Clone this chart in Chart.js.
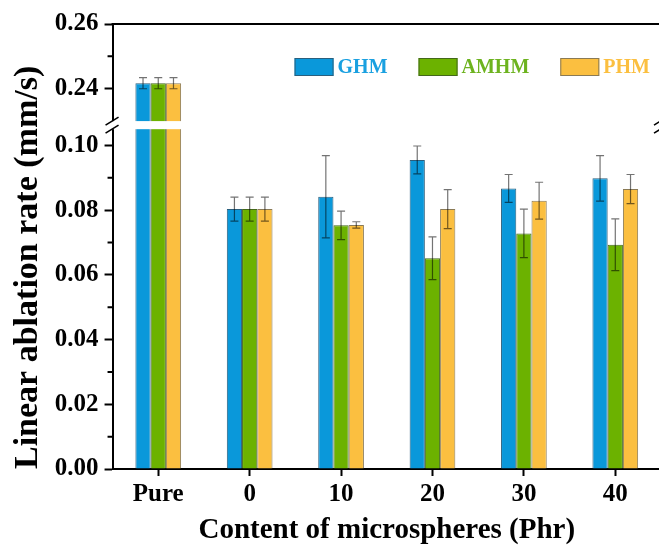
<!DOCTYPE html>
<html>
<head>
<meta charset="utf-8">
<script src="https://cdn.jsdelivr.net/npm/chart.js@4.4.0/dist/chart.umd.min.js"></script>
<style>
  html, body { margin: 0; padding: 0; background: #fff; overflow: hidden; width: 659px; height: 545px; }
  #wrap { position: relative; width: 662px; height: 545px; }
</style>
</head>
<body>
<div id="wrap"><canvas id="c"></canvas></div>
<script>
// Linear ablation rate (mm/s) by microsphere content
const categories = ['Pure', '0', '10', '20', '30', '40'];
const seriesNames = ['GHM', 'AMHM', 'PHM'];
const ghm     = [0.2417, 0.0803, 0.0841, 0.0955, 0.0867, 0.0898];
const ghmErr  = [0.0017, 0.0037, 0.0127, 0.0043, 0.0043, 0.0070];
const amhm    = [0.2417, 0.0803, 0.0753, 0.0651, 0.0728, 0.0693];
const amhmErr = [0.0017, 0.0037, 0.0044, 0.0066, 0.0075, 0.0080];
const phm     = [0.2417, 0.0803, 0.0754, 0.0803, 0.0829, 0.0865];
const phmErr  = [0.0017, 0.0037, 0.0010, 0.0060, 0.0057, 0.0045];
const majorTicks = [0, 0.02, 0.04, 0.06, 0.08, 0.10, 0.24, 0.26];
const minorTicks = [0.01, 0.03, 0.05, 0.07, 0.09, 0.25];

// Broken y axis: 0–0.105 below the break, 0.23–0.26 above it
const SHIFT = 0.1225;
const BREAK_LO = 0.105, BREAK_HI = 0.1075;   // band of the break, in drawn units
const toDrawn = v => (v > 0.2 ? v - SHIFT : v);
const toReal = d => (d > BREAK_HI - 0.001 ? d + SHIFT : d);
const majorSet = new Set(majorTicks.map(v => toDrawn(v).toFixed(4)));
const isMajor = d => majorSet.has(Number(d).toFixed(4));

const FONT = '"Liberation Serif", "Times New Roman", serif';
const palette = [
  { fill: '#0a98da', edge: '#2b5f7d', text: '#1aa0e0' },
  { fill: '#6cb200', edge: '#43681a', text: '#6db31f' },
  { fill: '#fbbf40', edge: '#8a7a55', text: '#fbbf40' }
];

const errorSets = [ghmErr, amhmErr, phmErr];
const realSets = [ghm, amhm, phm];

const decorations = {
  id: 'decorations',
  afterDatasetsDraw(chart) {
    const { ctx, chartArea: a, scales: { y } } = chart;
    // white gap of the axis break, across the bars and the axis line
    const yTop = y.getPixelForValue(BREAK_HI);
    const yBot = y.getPixelForValue(BREAK_LO);
    ctx.save();
    ctx.fillStyle = '#fff';
    ctx.fillRect(a.left - 2, yTop, a.right - a.left + 4, yBot - yTop);
    // error bars
    ctx.strokeStyle = 'rgba(0,0,0,0.55)';
    ctx.lineWidth = 1.2;
    realSets.forEach((vals, di) => {
      const meta = chart.getDatasetMeta(di);
      meta.data.forEach((bar, i) => {
        const e = errorSets[di][i];
        const hi = y.getPixelForValue(toDrawn(vals[i] + e));
        const lo = y.getPixelForValue(toDrawn(vals[i] - e));
        const x = bar.x, cw = 4;
        ctx.beginPath();
        ctx.moveTo(x, hi); ctx.lineTo(x, lo);
        ctx.moveTo(x - cw, hi); ctx.lineTo(x + cw, hi);
        ctx.moveTo(x - cw, lo); ctx.lineTo(x + cw, lo);
        ctx.stroke();
      });
    });
    ctx.restore();
  },
  afterDraw(chart) {
    const { ctx, chartArea: a, scales: { y } } = chart;
    ctx.save();
    ctx.strokeStyle = '#000';
    ctx.lineWidth = 2;
    // top frame line
    ctx.beginPath();
    ctx.moveTo(a.left - 1, a.top);
    ctx.lineTo(a.right, a.top);
    ctx.stroke();
    // short minor ticks
    ctx.beginPath();
    minorTicks.forEach(v => {
      const py = y.getPixelForValue(toDrawn(v));
      ctx.moveTo(a.left - 5, py); ctx.lineTo(a.left, py);
    });
    ctx.stroke();
    // break marks on both sides
    const yTop = y.getPixelForValue(BREAK_HI);
    const yBot = y.getPixelForValue(BREAK_LO);
    ctx.lineWidth = 1.6;
    [a.left, a.right].forEach(x => {
      ctx.beginPath();
      ctx.moveTo(x - 7, yTop + 4); ctx.lineTo(x + 6, yTop - 4);
      ctx.moveTo(x - 7, yBot + 4); ctx.lineTo(x + 6, yBot - 4);
      ctx.stroke();
    });
    // legend inside the plot, upper right
    ctx.font = 'bold 20px ' + FONT;
    ctx.textBaseline = 'middle';
    ctx.textAlign = 'left';
    let x = a.left + 182;
    const boxTop = a.top + 34;
    chart.data.datasets.forEach((ds, i) => {
      ctx.fillStyle = palette[i].fill;
      ctx.fillRect(x, boxTop, 39, 18);
      ctx.strokeStyle = palette[i].edge;
      ctx.lineWidth = 1;
      ctx.strokeRect(x + 0.5, boxTop + 0.5, 38, 17);
      ctx.fillStyle = palette[i].text;
      ctx.fillText(ds.label, x + 43, boxTop + 10);
      x += 43 + ctx.measureText(ds.label).width + 31;
    });
    ctx.restore();
  }
};

const barDefaults = { borderWidth: 1, barPercentage: 1, categoryPercentage: 0.5 };
const seriesData = [ghm, amhm, phm];

new Chart(document.getElementById('c'), {
  type: 'bar',
  data: {
    labels: categories,
    datasets: seriesData.map((vals, i) => ({
      label: seriesNames[i],
      data: vals.map(toDrawn),
      backgroundColor: palette[i].fill,
      borderColor: palette[i].edge,
      ...barDefaults
    }))
  },
  options: {
    responsive: true,
    maintainAspectRatio: false,
    animation: false,
    layout: { padding: { top: 24, right: 1, left: 4, bottom: 0 } },
    plugins: {
      tooltip: { enabled: false },
      legend: { display: false }
    },
    scales: {
      x: {
        grid: { drawOnChartArea: false, offset: false, tickLength: 7, tickWidth: 2, tickColor: '#000' },
        border: { color: '#000', width: 2 },
        ticks: { color: '#000', padding: 4, font: { family: FONT, weight: 'bold', size: 25 } },
        title: { display: true, text: 'Content of microspheres (Phr)', color: '#000',
                 font: { family: FONT, weight: 'bold', size: 29, lineHeight: 1 }, padding: { top: 2, bottom: 0 } }
      },
      y: {
        min: 0,
        max: toDrawn(0.26),
        afterBuildTicks(scale) {
          scale.ticks = [...majorTicks, ...minorTicks]
            .map(v => ({ value: toDrawn(v) }))
            .sort((p, q) => p.value - q.value);
        },
        grid: {
          drawOnChartArea: false, tickLength: 8, tickWidth: 2,
          tickColor: c => (isMajor(c.tick.value) ? '#000' : 'rgba(0,0,0,0)')
        },
        border: { color: '#000', width: 2 },
        ticks: {
          autoSkip: false, color: '#000', padding: 6,
          font: { family: FONT, weight: 'bold', size: 25 },
          callback: v => (isMajor(v) ? toReal(v).toFixed(2) : '')
        },
        title: { display: true, align: 'start', text: 'Linear ablation rate (mm/s)', color: '#000',
                 font: { family: FONT, weight: 'bold', size: 34 }, padding: { top: 4, bottom: 0 } }
      }
    }
  },
  plugins: [decorations]
});
</script>
</body>
</html>
